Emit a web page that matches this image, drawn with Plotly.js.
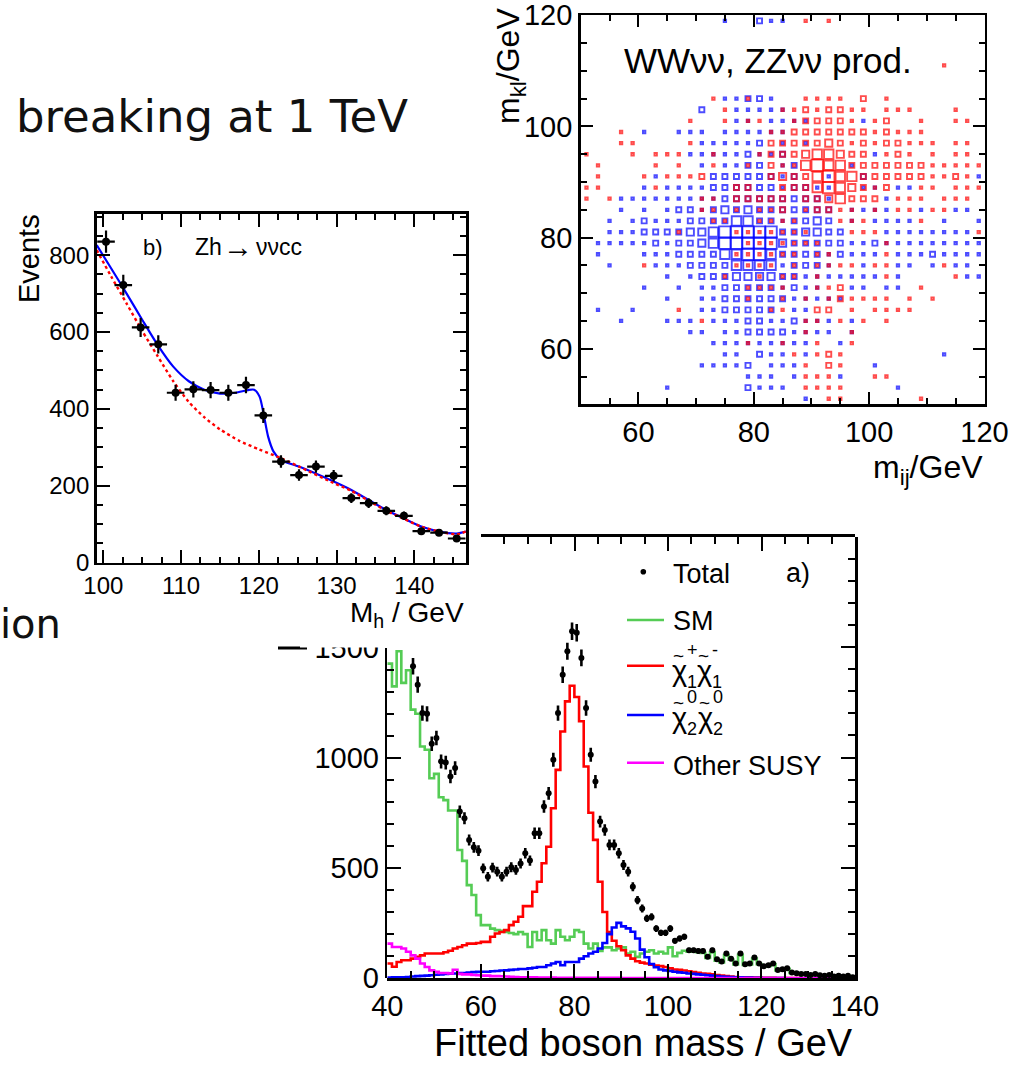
<!DOCTYPE html>
<html><head><meta charset="utf-8">
<script src="https://cdn.plot.ly/plotly-3.0.1.min.js"></script>
<style>html,body{margin:0;padding:0;background:#fff;}#chart{width:1021px;height:1065px;}</style>
</head><body><div id="chart"></div>
<script>
// ================= DATA =================
// Panel a) fitted boson mass, 1 GeV bins from 40 to 140 GeV
const massBinStart = 40;
const massBinWidth = 1;
const smCounts = [1425,1322,1481,1338,1395,1217,1198,1050,1035,906,
  926,820,807,760,760,581,532,422,377,286,
  241,241,225,218,215,210,205,200,210,200,
  142,210,172,218,172,157,218,188,172,188,
  218,210,157,135,157,124,140,140,127,135,
  140,112,120,97,112,120,127,112,120,112,
  140,100,115,125,120,120,118,115,92,118,
  80,72,105,84,63,106,60,63,90,64,
  52,56,64,36,39,43,24,22,19,19,
  14,19,13,10,14,7,11,7,10,4];
const charginoCounts = [67,52,74,82,82,89,97,104,112,112,
  112,112,118,125,135,142,150,157,157,160,
  165,165,188,203,210,218,241,256,279,327,
  327,392,437,521,596,770,944,1118,1254,1325,
  1274,1164,959,750,627,437,300,210,170,145,
  127,104,89,77,71,67,62,58,55,51,
  45,40,38,35,32,28,25,22,20,18,
  15,12,10,8,6,5,4,4,3,3,
  2,2,2,1,1,1,1,1,0,0,
  0,0,0,0,0,0,0,0,0,0];
const neutralinoCounts = [3,4,5,5,6,8,10,11,12,14,
  16,18,20,21,22,24,24,26,28,29,
  30,30,32,33,35,36,38,40,42,42,
  45,48,51,51,59,67,74,59,74,74,
  74,89,100,112,120,135,160,200,230,251,
  235,226,211,180,130,95,65,50,40,36,
  33,30,27,25,22,20,18,16,14,12,
  10,8,7,6,5,4,3,3,2,2,
  1,1,1,1,1,0,0,0,0,0,
  0,0,0,0,0,0,0,0,0,0];
const otherSusyCounts = [157,142,142,135,120,104,89,67,51,36,
  29,24,24,22,39,20,18,18,15,14,
  12,12,10,10,9,8,7,6,5,5,
  4,4,3,3,3,3,2,2,2,2,
  2,2,2,2,2,2,2,2,2,2,
  1,1,1,1,1,1,1,1,1,1,
  1,1,1,1,1,1,1,1,1,1,
  1,1,1,1,1,1,1,1,1,1,
  1,1,1,1,1,1,1,1,1,1,
  1,1,1,1,1,1,1,1,1,1];
// Total (points), visible from bin 45 on
const totalFirstBin = 45;
const totalCounts = [1413,1330,1201,1198,1062,1088,982,977,914,952,
  755,725,626,593,578,498,460,501,483,460,
  483,503,491,520,566,533,657,657,778,838,
  990,1201,1375,1481,1572,1565,1451,1224,1012,891,
  710,672,604,604,566,513,483,415,354,316,
  271,278,225,206,206,225,170,180,188,127,
  127,124,124,98,127,86,76,112,89,67,
  112,64,67,94,67,55,59,67,38,41,
  45,26,23,20,20,15,20,14,11,15,
  8,12,8,11,5];

// Panel b) Zh -> nu nu c c
const zhMass = [100.35,102.57,104.8,107.07,109.3,111.58,113.8,116.08,118.35,120.58,122.85,
  125.17,127.35,129.63,131.9,134.13,136.4,138.67,140.9,143.18,145.45];
const zhEvents = [835,722,612,568,442,451,449,442,462,383,263,228,250,226,168,155,135,122,82,78,63];
const zhBinHalfWidth = 1.13;
const fitMass = [99.15,101,103,105,107,109,111,113,115,117,118.6,119.4,120.1,120.6,121.2,121.9,122.85,
  125.17,129.63,131.9,134.13,136.4,138.67,140.9,143.18,145.45,146.65];
const fitTotal = [826,766,700,632,566,510,472,450,440,442,449,450,432,389,328,289,267,
  250,211,189,163,137,115,94,81,76,81];
const bkgMass = [99.15,101,103,105,107,109,111,113,115,117.5,120,122.85,
  125.17,129.63,131.9,134.13,136.4,138.67,140.9,143.18,145.45,146.65];
const fitBackground = [813,745,674,603,537,472,418,378,347,317,295,272,
  250,207,187,161,135,114,94,81,74,81];

// Top right: m_kl vs m_ij, 2 GeV cells from 50 to 120 (rows listed from 119 down to 51)
// '.' = empty cell, 1..5 = box size class
const cellLow = 50, cellWidth = 2;
const wwBoxes = [
  "..... ..... ..1.. 211.. ..... ..... .....",
  "..... ..... ..... ..... ..... ..... .....",
  "..... ..... ..... ..... ..... ..... .....",
  "..... ..... ..... ..... ..... ..... .....",
  "..... ..... ..... ..... ..... ..... .....",
  "..... ..... ..... ..... ..... ..... .....",
  "..... ..... ..... ..... ..... ..... .....",
  "..... ..... ..112 21... ..... ..... .....",
  "..... ..... 2..11 111.. ..... ..... .....",
  "..... ..... ...11 .1111 ....1 ..... .....",
  "..... 1..11 1.111 111.. ..... ..... .....",
  "..... ..... 11111 2.1.1 ..... ..... .....",
  "..... ....1 11112 112.. ..... 1.... .....",
  "..... ..... 1.112 2.12. ...1. ..... .....",
  "..... .1... .2222 2212. .1..2 ..... ....1",
  "..... 1.111 12222 22122 11..1 1.11. .....",
  "...11 11111 11222 22222 21... .1... .....",
  "...1. 1.122 12323 22222 22.11 11..1 ..11.",
  "..1.1 21112 22244 22122 32.1. 1111. .1..1",
  "..111 22223 34555 55223 322.. .1111 1111.",
  ".1111 12122 34555 55322 22211 21111 11111",
  ".1... 11122 22445 54222 21211 1.111 21111",
  "..1.. .1112 22244 44122 21..1 ..11. 1.11.",
  "..... ..1.1 22233 33221 11111 1.1.. ...11",
  "..... 1..1. 11222 22121 1..11 .11.. .....",
  "..... ..1.. 11222 22211 111.. ..... .....",
  ".1..1 ..... 11222 22.11 ..... ..... .....",
  "...1. ..111 .1112 21121 11.1. ..... .....",
  "..... ....1 1.112 22211 11.1. ..... .....",
  "..... ..... .1111 11111 ..1.. ..... .....",
  "..... ..... ..11. 211.1 ..... ..... .1...",
  "..... ..... 11112 .111. ..... 1.... .....",
  "..... ..... ....1 11.1. ..1.. ..... .....",
  "..... ..1.. ....2 111.. ..... ..1.. .....",
  "..... ..... ..... ....1 ..... ..... ....."
];
const zzBoxes = [
  "..... ..... ..... ....1 .1... ..... .....",
  "..... ..... ..... ..... ..... ..... .....",
  "..... ..... ..... ..... ..... ..... .....",
  "..... ..... ..... ..... ..... ..... .....",
  "..... ..... ..... ..... ..... ..... .1...",
  "..... ..... ..... ..... ..... ..... .....",
  "..... ..... ..... ..... ..... ..... .....",
  "..... ..... .1..1 ....1 111.2 .1... .....",
  "..... ..... ..1.. ..112 12211 .111. ..1..",
  "..... ....1 ..1.1 1..12 2221. 12..1 ..11.",
  "...1. ..... ..... .1122 22222 12111 .....",
  "...11 ....1 ..... .2222 23212 12211 1.11.",
  "1...1 .111. .1... 12223 44322 .121. 1.11.",
  ".1... .1.1. .1..1 .2114 54422 22222 11111",
  ".1... 1.111 2.... .2322 45442 22222 1121.",
  "11... .1... ...22 ..222 45432 12..1 1.111",
  "1.1.. ..... 11.22 222.2 23422 2.111 .111.",
  "..... ..... 11.1. 112.1 2211. 1.11. 11...",
  "..... ..... .11.. 1111. ..111 ....1 .....",
  "..... ...1. ...11 11111 ...11 1.... ....1",
  "..... ..... ....1 11111 1.... .1... .....",
  "..... ..... ...11 1111. 11... .1... .....",
  "..... 1.... ...11 11.1. 1111. 11... .1...",
  "..... ..... ..1.. 1.11. 1.... .1... ..1..",
  "..... ..... ....1 111.. 112.. ....1 .....",
  "..... ..... ....1 ..1.1 .1211 11.1. 1....",
  "..... ...1. ..... .11.. 22.1. 1111. .....",
  "..... ..... 1.... ....1 1.1.1 .1... .....",
  "..... ..... ..... ....1 ...1. ..... .....",
  "..... ..... ....1 ..1.. 1..1. ..... .....",
  "..... ..... ..... ...1. 121.. ..... .....",
  "..... ..... ..... ....1 .21.. ..... .....",
  "..... ..... ..... ....1 11... 11... .....",
  "..... ..... ..... ....1 111.. ..... .....",
  "..... ..... ..... ..... .11.. ....1 ....."
];

// ================= DRAWING =================
const W = 1021, H = 1065;
const FONT = 'Liberation Sans, Arial, Helvetica, sans-serif';
const px2x = p => p / W;
const px2y = p => 1 - p / H;

function stepTrace(counts, color) {
  const xs = [], ys = [];
  for (let i = 0; i < counts.length; i++) { xs.push(massBinStart + i * massBinWidth); ys.push(counts[i]); }
  xs.push(massBinStart + counts.length * massBinWidth); ys.push(counts[counts.length - 1]);
  return {type: 'scatter', mode: 'lines', x: xs, y: ys, xaxis: 'x', yaxis: 'y',
    line: {shape: 'hv', color: color, width: 2.6}, hoverinfo: 'skip', showlegend: false};
}

const totalX = totalCounts.map((v, i) => massBinStart + (totalFirstBin - massBinStart + i + 0.5) * massBinWidth);

const traces = [
  stepTrace(smCounts, '#55cc55'),
  stepTrace(charginoCounts, '#ff0000'),
  stepTrace(neutralinoCounts, '#0000ff'),
  stepTrace(otherSusyCounts, '#ff00ff'),
  {type: 'scatter', mode: 'markers', x: totalX, y: totalCounts, xaxis: 'x', yaxis: 'y',
    marker: {color: '#000', size: 6}, error_y: {type: 'sqrt', visible: true, color: '#000', thickness: 2.6, width: 0},
    hoverinfo: 'skip', showlegend: false},
  // panel b
  {type: 'scatter', mode: 'lines', x: fitMass, y: fitTotal, xaxis: 'x2', yaxis: 'y2',
    line: {color: '#0000ff', width: 2.2, shape: 'spline', smoothing: 0.7}, hoverinfo: 'skip', showlegend: false},
  {type: 'scatter', mode: 'lines', x: bkgMass, y: fitBackground, xaxis: 'x2', yaxis: 'y2',
    line: {color: '#ff0000', width: 2.4, dash: 'dot', shape: 'spline', smoothing: 0.7}, hoverinfo: 'skip', showlegend: false},
  {type: 'scatter', mode: 'markers', x: zhMass, y: zhEvents, xaxis: 'x2', yaxis: 'y2',
    marker: {color: '#000', size: 8},
    error_y: {type: 'sqrt', visible: true, color: '#000', thickness: 2.2, width: 0},
    error_x: {type: 'constant', value: zhBinHalfWidth, visible: true, color: '#000', thickness: 2.2, width: 0},
    hoverinfo: 'skip', showlegend: false},
  // helper subplots
  {type: 'scatter', x: [null], y: [null], xaxis: 'x4', yaxis: 'y4', hoverinfo: 'skip', showlegend: false},
  {type: 'scatter', x: [null], y: [null], xaxis: 'x5', yaxis: 'y5', hoverinfo: 'skip', showlegend: false}
];

// box scatter
const boxSize = [0, 2.4, 5, 7.2, 9.4, 11.4];
function boxTrace(rows, color) {
  const xs = [], ys = [], ss = [];
  rows.forEach((row, j) => {
    const cells = row.replace(/ /g, '');
    const rowCenter = cellLow + 70 - cellWidth * (j + 0.5);
    for (let k = 0; k < cells.length; k++) {
      const c = cells[k];
      if (c === '.') continue;
      xs.push(cellLow + cellWidth * (k + 0.5));
      ys.push(rowCenter);
      ss.push(boxSize[+c]);
    }
  });
  return {type: 'scatter', mode: 'markers', x: xs, y: ys, xaxis: 'x3', yaxis: 'y3',
    marker: {symbol: 'square-open', size: ss, color: color, line: {width: 1.9, color: color}},
    hoverinfo: 'skip', showlegend: false, cliponaxis: true};
}
traces.push(boxTrace(wwBoxes, '#0000ff'));
traces.push(boxTrace(zzBoxes, '#ff0000'));

const tickFont = s => ({family: FONT, size: s, color: '#000'});
function ax(o) {
  return Object.assign({showgrid: false, zeroline: false, showline: true, linecolor: '#000', linewidth: 2.6,
    ticks: 'inside', tickcolor: '#000', tickwidth: 2, fixedrange: true, ticklabeloverflow: 'allow'}, o);
}

// panel geometry in pixels
const A_L = 387.3, A_R = 855, A_T = 536.7, A_B = 978.3;
const B_L = 96.7, B_R = 466, B_T = 214, B_B = 562.7;
const C_L = 580.7, C_R = 984.5, C_T = 15.3, C_B = 404.3;

const layout = {
  width: W, height: H, margin: {l: 0, r: 0, t: 0, b: 0},
  paper_bgcolor: '#fff', plot_bgcolor: 'rgba(0,0,0,0)', showlegend: false,
  // panel a
  xaxis: ax({domain: [px2x(A_L), px2x(A_R)], range: [40, 140], anchor: 'y', dtick: 20, ticklen: 14,
    minor: {dtick: 5, ticklen: 7, tickwidth: 2, tickcolor: '#000', ticks: 'inside'},
    tickfont: tickFont(29), mirror: false}),
  yaxis: ax({domain: [px2y(A_B), px2y(A_T)], range: [0, 2000], anchor: 'x', side: 'right', dtick: 500, ticklen: 14,
    minor: {dtick: 100, ticklen: 7, tickwidth: 2, tickcolor: '#000', ticks: 'inside'},
    showticklabels: false, mirror: false}),
  // panel b
  xaxis2: ax({domain: [px2x(B_L), px2x(B_R)], range: [99.15, 146.65], anchor: 'y2', dtick: 10, ticklen: 13,
    minor: {dtick: 2.5, ticklen: 6, tickwidth: 2, tickcolor: '#000', ticks: 'inside'},
    tickfont: tickFont(24), mirror: 'ticks'}),
  yaxis2: ax({domain: [px2y(B_B), px2y(B_T)], range: [0, 907], anchor: 'x2', dtick: 200, ticklen: 13,
    minor: {dtick: 50, ticklen: 6, tickwidth: 2, tickcolor: '#000', ticks: 'inside'},
    tickfont: tickFont(24), mirror: 'ticks'}),
  // top-right scatter
  xaxis3: ax({domain: [px2x(C_L), px2x(C_R)], range: [50, 120], anchor: 'y3', dtick: 20, ticklen: 12,
    minor: {dtick: 5, ticklen: 6, tickwidth: 2, tickcolor: '#000', ticks: 'inside'},
    tickfont: tickFont(29), mirror: 'ticks'}),
  yaxis3: ax({domain: [px2y(C_B), px2y(C_T)], range: [50, 120], anchor: 'x3', dtick: 20, ticklen: 12,
    minor: {dtick: 5, ticklen: 6, tickwidth: 2, tickcolor: '#000', ticks: 'inside'},
    tickfont: tickFont(29), mirror: 'ticks'}),
  // panel a visible left axis (partly hidden behind panel b in the original)
  xaxis4: {domain: [px2x(A_L), px2x(A_R)], range: [0, 1], anchor: 'y4', visible: false, fixedrange: true},
  yaxis4: ax({domain: [px2y(A_B), px2y(647.5)], range: [0, 1500], anchor: 'x4', dtick: 500, ticklen: 14,
    minor: {dtick: 100, ticklen: 7, tickwidth: 2, tickcolor: '#000', ticks: 'inside'},
    tickfont: tickFont(29), mirror: false}),
  // panel a visible top axis
  xaxis5: ax({domain: [px2x(481), px2x(A_R)], range: [60, 140], anchor: 'y5', side: 'top', dtick: 20, ticklen: 14,
    minor: {dtick: 5, ticklen: 7, tickwidth: 2, tickcolor: '#000', ticks: 'inside'},
    showticklabels: false, mirror: false}),
  yaxis5: {domain: [px2y(A_B), px2y(A_T)], range: [0, 1], anchor: 'x5', visible: false, fixedrange: true},
  shapes: [],
  annotations: []
};

function note(text, x, y, size, o) {
  return Object.assign({xref: 'paper', yref: 'paper', x: px2x(x), y: px2y(y), text: text, showarrow: false,
    xanchor: 'left', yanchor: 'middle', font: {family: FONT, size: size, color: '#000'}}, o || {});
}
function hline(x0, x1, y, color, w) {
  return {type: 'line', xref: 'paper', yref: 'paper', x0: px2x(x0), x1: px2x(x1), y0: px2y(y), y1: px2y(y),
    line: {color: color, width: w}, layer: 'above'};
}

// slide text
const slideFont = {family: 'DejaVu Sans, sans-serif', size: 44, color: '#111'};
layout.annotations.push(note('breaking at 1 TeV', 14, 117, 44, {font: Object.assign({}, slideFont, {size: 45})}));
layout.annotations.push(note('ion', -2, 624, 40, {font: Object.assign({}, slideFont, {size: 40})}));
layout.shapes.push(hline(278, 307, 648, '#000', 3));
// hide the top of the "1500" label (covered by panel b's picture)
layout.shapes.push({type: 'rect', xref: 'paper', yref: 'paper', x0: px2x(300), x1: px2x(385), y0: px2y(647.5), y1: px2y(630),
  fillcolor: '#fff', line: {width: 0}, layer: 'above'});

// panel b labels
layout.annotations.push(note('Events', 29, 259, 29, {textangle: -90, xanchor: 'center'}));
layout.annotations.push(note('M<sub>h</sub> / GeV', 466, 614, 28, {xanchor: 'right'}));
layout.annotations.push(note('b)', 141, 247, 22));
layout.annotations.push(note('Zh', 193, 247, 23));
layout.annotations.push(note('\u2192', 221, 246, 30));
layout.annotations.push(note('\u03bd\u03bdcc', 254, 247, 23));

// scatter labels
layout.annotations.push(note('WW\u03bd\u03bd, ZZ\u03bd\u03bd prod.', 622, 61, 35));
layout.annotations.push(note('m<sub>kl</sub>/GeV', 510, 66, 32, {textangle: -90, xanchor: 'center'}));
layout.annotations.push(note('m<sub>ij</sub>/GeV', 985, 470, 32, {xanchor: 'right'}));

// panel a labels and legend
layout.annotations.push(note('Fitted boson mass / GeV', 855, 1043, 38, {xanchor: 'right'}));
layout.shapes.push({type: 'circle', xref: 'paper', yref: 'paper', x0: px2x(640.5), x1: px2x(646.1), y0: px2y(568.9), y1: px2y(574.5),
  fillcolor: '#000', line: {width: 0}, layer: 'above'});
layout.annotations.push(note('Total', 671, 574, 27));
layout.annotations.push(note('a)', 784, 573, 27));
layout.shapes.push(hline(627, 664, 620, '#55cc55', 2.6));
layout.annotations.push(note('SM', 671, 621, 27));
layout.shapes.push(hline(627, 664, 665.7, '#ff0000', 2.6));
layout.shapes.push(hline(627, 664, 715, '#0000ff', 2.6));
layout.shapes.push(hline(627, 664, 762.7, '#ff00ff', 2.6));
layout.annotations.push(note('Other SUSY', 671, 766, 27));
// chargino / neutralino symbols, built from pieces
[[670, 0, '+', '1'], [695, 0, '-', '1'], [670, 47.3, '0', '2'], [696, 47.3, '0', '2']].forEach(([x, dy, sup, sub]) => {
  layout.annotations.push(note('\u03c7', x, 671 + dy, 29));
  layout.annotations.push(note('~', x + 1, 655 + dy, 19));
  layout.annotations.push(note(sup, x + 15, 650 + dy, 18));
  layout.annotations.push(note(sub, x + 15, 682 + dy, 18));
});

Plotly.newPlot('chart', traces, layout, {staticPlot: true, displayModeBar: false});
</script>
</body></html>
